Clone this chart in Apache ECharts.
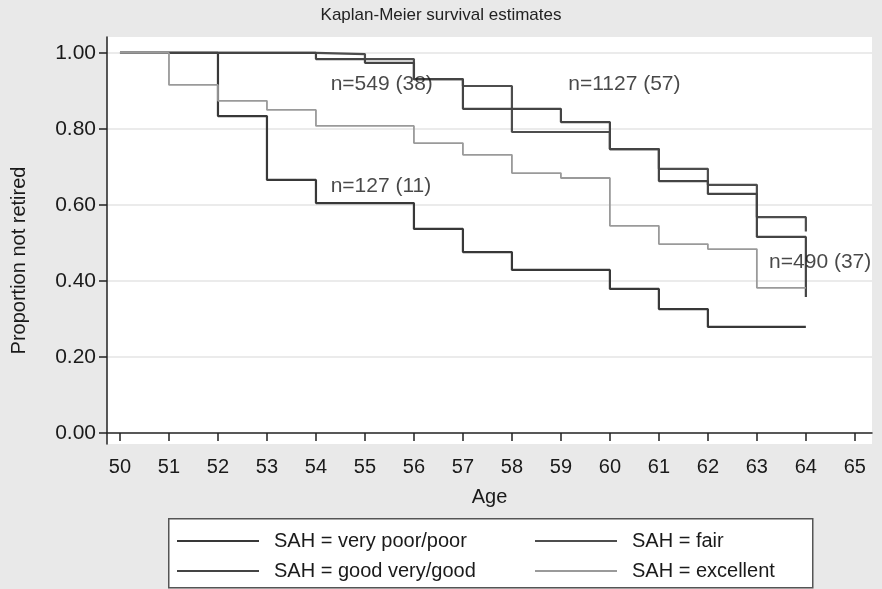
<!DOCTYPE html>
<html>
<head>
<meta charset="utf-8">
<script src="https://cdn.jsdelivr.net/npm/echarts@6/dist/echarts.min.js"></script>
<style>html,body{margin:0;padding:0;background:#e9e9e9;}#c{width:882px;height:589px;}</style>
</head>
<body>
<div id="c"></div>
<script>
// ---- data ----
const xTicks = [50,51,52,53,54,55,56,57,58,59,60,61,62,63,64,65];
const yTicks = [0,0.2,0.4,0.6,0.8,1.0];
const yGrid = [0.2,0.4,0.6,0.8,1.0];
const seriesNames = ['SAH = very poor/poor','SAH = fair','SAH = good very/good','SAH = excellent'];
const poorAge  = [50,52,53,54,56,57,58,60,61,62,64];
const poorSurv = [1.0,0.834,0.666,0.605,0.537,0.476,0.429,0.379,0.326,0.279,0.279];
const fairAge  = [50,54,55,56,57,58,60,61,62,63,64];
const fairSurv = [1.0,0.997,0.984,0.931,0.913,0.792,0.747,0.695,0.653,0.568,0.53];
const goodAge  = [50,54,55,56,57,59,60,61,62,63,64];
const goodSurv = [1.0,0.984,0.974,0.931,0.853,0.818,0.747,0.663,0.629,0.516,0.358];
const excAge   = [50,51,52,53,54,56,57,58,59,60,61,62,63,64];
const excSurv  = [1.0,0.916,0.874,0.85,0.808,0.763,0.732,0.684,0.671,0.545,0.497,0.484,0.382,0.382];
const annText = ['n=549 (38)','n=127 (11)','n=1127 (57)','n=490 (37)'];
const annX = [54.3,54.3,59.15,63.25];
const annY = [0.918,0.65,0.918,0.45];

const zip = (a,b) => a.map((v,i)=>[v,b[i]]);
const colors = ['#383838','#4d4d4d','#444444','#9a9a9a'];
const widths = [2.2,2.2,2.2,1.8];
const dataSets = [zip(poorAge,poorSurv), zip(fairAge,fairSurv), zip(goodAge,goodSurv), zip(excAge,excSurv)];

const font = 'Liberation Sans, Arial, sans-serif';
const chart = echarts.init(document.getElementById('c'));

const series = seriesNames.map((n,i)=>({
  name:n, type:'line', step:'end', data:dataSets[i], symbol:'none',
  lineStyle:{color:colors[i], width:widths[i]}, itemStyle:{color:colors[i]},
  emphasis:{disabled:true}, z: 3
}));
series.push({
  type:'scatter', symbolSize:0, data: annX.map((x,i)=>({value:[x,annY[i]], name:annText[i]})),
  label:{show:true, position:'right', distance:0, formatter:p=>p.name, color:'#1a1a1a', fontSize:21, fontFamily:font},
  silent:true, z:5
});

const legendCommon = {orient:'vertical', top:531, height:60, padding:0, itemWidth:82, itemHeight:2, itemGap:10,
  icon:'rect',
  textStyle:{fontSize:20, lineHeight:20, color:'#1a1a1a', fontFamily:font, padding:[0,0,0,10]},
  selectedMode:false, z:10};

chart.setOption({
  backgroundColor:'#e9e9e9',
  animation:false,
  title:{text:'Kaplan-Meier survival estimates', left:'center', top:2,
    textStyle:{fontSize:17, fontWeight:'normal', color:'#222', fontFamily:font}},
  grid:{left:107, right:10, top:37, bottom:145, show:true, backgroundColor:'#ffffff', borderWidth:0},
  xAxis:{type:'value', min:49.735, max:65.35,
    name:'Age', nameLocation:'middle', nameGap:43,
    nameTextStyle:{fontSize:20, color:'#1a1a1a', fontFamily:font},
    axisLine:{lineStyle:{color:'#222', width:1.5}},
    axisTick:{customValues:xTicks, length:8, lineStyle:{color:'#222', width:1.5}},
    axisLabel:{customValues:xTicks, margin:13, fontSize:20, color:'#1a1a1a', fontFamily:font},
    splitLine:{show:false}},
  yAxis:[{type:'value', min:-0.029, max:1.042,
    name:'Proportion not retired', nameLocation:'middle', nameGap:78,
    nameTextStyle:{fontSize:20, color:'#1a1a1a', fontFamily:font, padding:[0,0,0,-40]},
    axisLine:{show:true, lineStyle:{color:'#222', width:1.5}},
    axisTick:{show:true, customValues:yTicks, length:8, lineStyle:{color:'#222', width:1.5}},
    axisLabel:{customValues:yTicks, margin:11, fontSize:21, color:'#1a1a1a', fontFamily:font,
      formatter:v=>v.toFixed(2)},
    splitLine:{show:false}},
   {type:'value', min:-0.029, max:1.042, position:'left',
    axisLine:{show:false}, axisLabel:{show:false},
    axisTick:{show:false, customValues:yGrid},
    splitLine:{show:true, lineStyle:{color:'#e4e4e4', width:1.5}}}],
  legend:[
    Object.assign({data:[seriesNames[0],seriesNames[2]], left:177}, legendCommon),
    Object.assign({data:[seriesNames[1],seriesNames[3]], left:535}, legendCommon)
  ],
  graphic:[{type:'rect', left:168, top:518, z:0, shape:{width:644, height:69},
    style:{fill:'#ffffff', stroke:'#555', lineWidth:1.5}, silent:true}],
  series: series
});
</script>
</body>
</html>
